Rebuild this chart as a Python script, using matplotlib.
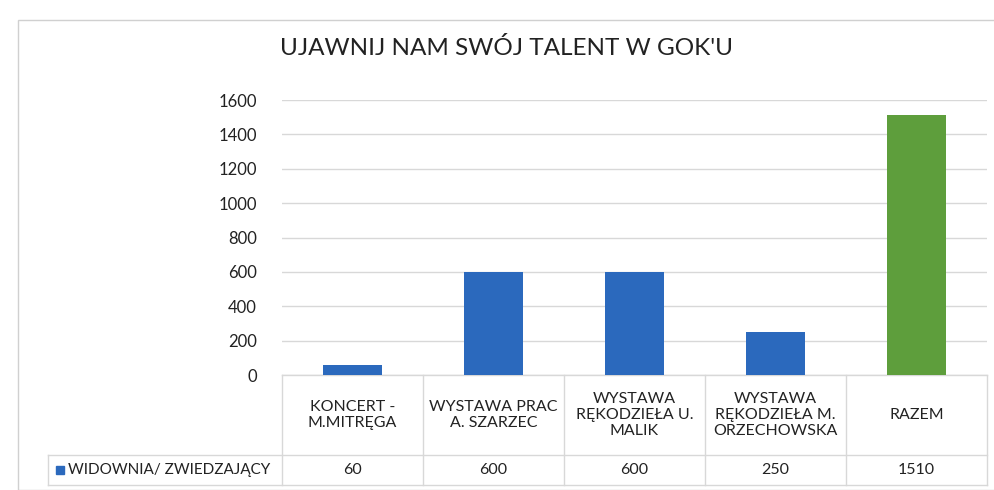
import matplotlib.pyplot as plt
from matplotlib.patches import Rectangle

# data
categories = ["KONCERT -\nM.MITRĘGA", "WYSTAWA PRAC\nA. SZARZEC", "WYSTAWA\nRĘKODZIEŁA U.\nMALIK",
              "WYSTAWA\nRĘKODZIEŁA M.\nORZECHOWSKA", "RAZEM"]
values = [60, 600, 600, 250, 1510]
series_name = "WIDOWNIA/ ZWIEDZAJĄCY"
title = "UJAWNIJ NAM SWÓJ TALENT W GOK'U"
yticks = [0, 200, 400, 600, 800, 1000, 1200, 1400, 1600]

blue = "#2b69bd"
green = "#5e9e3c"
colors = [blue, blue, blue, blue, green]
grid_c = "#d8d8d8"
text_c = "#222222"

plt.rcParams['font.family'] = ['Lato', 'DejaVu Sans']

fig = plt.figure(figsize=(9.95, 4.9), dpi=100)
W, H = 995, 490

# outer chart frame
fig.patches.append(Rectangle((18 / W, 0), 1, 1 - 20 / H, transform=fig.transFigure,
                             fill=False, edgecolor="#d0d0d0", lw=1))

left, right, bottom, top = 282, 987, 375, 100
ax = fig.add_axes([left / W, 1 - bottom / H, (right - left) / W, (bottom - top) / H])

n = len(categories)
x = list(range(n))
ax.bar(x, values, width=0.42, color=colors, zorder=3)
ax.set_xlim(-0.5, n - 0.5)
ax.set_ylim(0, 1600)
ax.set_yticks(yticks)
ax.set_yticklabels([str(t) for t in yticks], fontsize=12, color=text_c)
ax.tick_params(axis="y", length=0, pad=18)
ax.set_xticks([])
ax.yaxis.grid(True, color=grid_c, lw=1)
for s in ax.spines.values():
    s.set_visible(False)

fig.text(507 / W, 1 - 48 / H, title, ha="center", va="center", fontsize=17.5, color=text_c)

# data table below the plot
axh = bottom - top
y_hdr = -80 / axh
y_val = -110 / axh
x_leg = (48 - left) / (right - left)
tr = ax.transAxes
line_kw = dict(color=grid_c, lw=1, transform=tr, clip_on=False)

ax.plot([0, 1], [0, 0], **line_kw)
ax.plot([x_leg, 1], [y_hdr, y_hdr], **line_kw)
ax.plot([x_leg, 1], [y_val, y_val], **line_kw)
ax.plot([x_leg, x_leg], [y_hdr, y_val], **line_kw)
for i in range(n + 1):
    ax.plot([i / n, i / n], [0, y_val], **line_kw)

for i, (cat, v) in enumerate(zip(categories, values)):
    cx = (i + 0.5) / n
    ax.text(cx, y_hdr / 2, cat, transform=tr, ha="center", va="center",
            fontsize=11.5, color=text_c, linespacing=1.2)
    ax.text(cx, (y_hdr + y_val) / 2, str(v), transform=tr, ha="center", va="center",
            fontsize=11.5, color=text_c)

# legend key + series name
ax.add_patch(Rectangle((x_leg + 0.011, (y_hdr + y_val) / 2 - 0.016), 0.011, 0.032,
                       transform=tr, color=blue, clip_on=False))
ax.text(x_leg + 0.028, (y_hdr + y_val) / 2, series_name, transform=tr, ha="left",
        va="center", fontsize=11, color=text_c)

fig.savefig("out.png", dpi=100)
